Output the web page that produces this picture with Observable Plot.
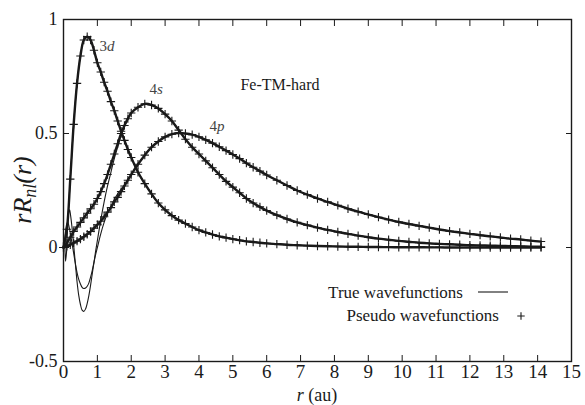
<!DOCTYPE html>
<html><head><meta charset="utf-8">
<script src="https://cdn.jsdelivr.net/npm/d3@7"></script>
<script src="https://cdn.jsdelivr.net/npm/@observablehq/plot@0.6"></script>
<style>
html,body{margin:0;padding:0;background:#fff;}
#chart{width:585px;height:405px;}
svg, svg text{font-family:"Liberation Serif",Tinos,"Times New Roman",Times,"DejaVu Serif",serif !important;}
</style></head><body><div id="chart"></div>
<script>
// pseudo wavefunction grid (r in au)
const rGrid = [0,0.1,0.2,0.3,0.4,0.5,0.6,0.7,0.8,0.9,1.0,1.1,1.2,1.3,1.4,1.5,1.6,1.7,1.8,1.9,2.0,
  2.2,2.4,2.6,2.8,3.0,3.2,3.4,3.6,3.8,4.0,4.2,4.4,4.6,4.8,5.0,5.2,5.4,5.6,5.8,6.0,
  6.3,6.6,6.9,7.2,7.5,7.8,8.1,8.4,8.7,9.0,9.3,9.6,9.9,10.2,10.5,10.8,11.1,11.4,11.7,12.0,12.3,12.6,12.9,13.2,13.5,13.8,14.1];
const d3Vals = [0,0.08,0.30,0.54,0.72,0.84,0.91,0.925,0.91,0.865,0.81,0.77,0.725,0.685,0.64,0.60,0.555,0.51,0.47,0.43,0.395,
  0.33,0.28,0.235,0.195,0.165,0.14,0.12,0.105,0.09,0.076,0.066,0.057,0.049,0.043,0.037,0.032,0.027,0.024,0.021,0.018,
  0.015,0.012,0.010,0.008,0.0065,0.0055,0.0045,0.0035,0.003,0.0025,0.002,0.0015,0.001,0.001,0.001,0.0005,0.0005,0,0,0,0,0,0,0,0,0,0];
const s4Vals = [0,0.02,0.045,0.07,0.09,0.11,0.13,0.15,0.17,0.19,0.215,0.245,0.28,0.32,0.365,0.41,0.455,0.50,0.535,0.565,0.59,
  0.615,0.63,0.625,0.61,0.585,0.555,0.515,0.475,0.44,0.41,0.38,0.35,0.32,0.29,0.265,0.24,0.215,0.195,0.178,0.162,
  0.142,0.125,0.11,0.098,0.087,0.077,0.068,0.06,0.052,0.045,0.039,0.034,0.029,0.025,0.021,0.018,0.016,0.014,0.012,0.010,0.009,0.008,0.007,0.006,0.005,0.004,0.003];
const p4Vals = [0,0.005,0.012,0.02,0.028,0.037,0.047,0.058,0.07,0.085,0.10,0.115,0.135,0.155,0.175,0.20,0.22,0.245,0.27,0.295,0.32,
  0.365,0.405,0.44,0.465,0.485,0.497,0.502,0.50,0.495,0.485,0.472,0.458,0.442,0.425,0.408,0.39,0.37,0.352,0.335,0.318,
  0.295,0.272,0.25,0.232,0.215,0.20,0.185,0.17,0.157,0.145,0.133,0.122,0.112,0.103,0.095,0.087,0.079,0.072,0.066,0.06,0.054,0.049,0.044,0.039,0.035,0.03,0.026];
// true (all-electron) wavefunctions inside the core region
const rInner = [0,0.03,0.06,0.09,0.12,0.15,0.18,0.21,0.25,0.3,0.35,0.4,0.45,0.5,0.55,0.6,0.65,0.7,0.75,0.8,0.85,0.9,0.95,1.0,1.1,1.2,1.3,1.4,1.5,1.6,1.7,1.8,1.9];
const s4Inner = [0,0.03,-0.06,-0.02,0.08,0.15,0.165,0.14,0.09,0.01,-0.07,-0.15,-0.21,-0.25,-0.275,-0.28,-0.27,-0.245,-0.21,-0.165,-0.115,-0.065,-0.015,0.03,0.12,0.2,0.27,0.33,0.39,0.44,0.49,0.53,0.565];
const p4Inner = [0,0.03,0.07,0.1,0.11,0.1,0.08,0.055,0.02,-0.025,-0.07,-0.11,-0.14,-0.16,-0.175,-0.18,-0.178,-0.17,-0.155,-0.13,-0.1,-0.065,-0.03,0.0,0.06,0.11,0.15,0.18,0.21,0.235,0.255,0.275,0.3];
const xTicks = [0,1,2,3,4,5,6,7,8,9,10,11,12,13,14,15];
const yTicks = [-0.5,0,0.5,1];
const yTickLabels = ["-0.5","0","0.5","1"];
const curveLabels = [
  {num:"3", sub:"d", r:1.3, v:0.86},
  {num:"4", sub:"s", r:2.75, v:0.67},
  {num:"4", sub:"p", r:4.55, v:0.51}
];
const legendLabels = ["True wavefunctions","Pseudo wavefunctions"];
const boxLabel = "Fe-TM-hard";

const series = [["3d", d3Vals], ["4s", s4Vals], ["4p", p4Vals]];
const pseudo = series.flatMap(([s, vals]) => rGrid.map((r, i) => ({s, r, v: vals[i]})));
const innerMap = {"3d": null, "4s": s4Inner, "4p": p4Inner};
const trueT = series.flatMap(([s, vals]) => {
  const inner = innerMap[s];
  if (!inner) return rGrid.map((r, i) => ({s, r, v: vals[i]}));
  const a = rInner.map((r, i) => ({s, r, v: inner[i]}));
  const b = rGrid.map((r, i) => ({s, r, v: vals[i]})).filter(d => d.r >= 2);
  return a.concat(b);
});

const ink = "#1a1a1a";
const font = '"Liberation Serif", Tinos, "Times New Roman", Times, "DejaVu Serif", serif';
const plot = Plot.plot({
  width: 585, height: 405,
  marginLeft: 63, marginRight: 14, marginTop: 19, marginBottom: 44,
  x: {domain: [0, 15]},
  y: {domain: [-0.5, 1]},
  style: {fontFamily: font, fontSize: "18px", color: ink, background: "#fff"},
  marks: [
    Plot.axisX(xTicks, {anchor: "bottom", tickSize: 0, tickPadding: 3, fontSize: 19, tickFormat: d => String(d), label: null}),
    Plot.axisX(xTicks, {anchor: "bottom", tickSize: -6, tickFormat: () => "", label: null}),
    Plot.axisX(xTicks, {anchor: "top", tickSize: -6, tickFormat: () => "", label: null}),
    Plot.axisY(yTicks, {anchor: "left", tickSize: 0, tickPadding: 6, fontSize: 18, tickFormat: (d, i) => yTickLabels[yTicks.indexOf(d)], label: null}),
    Plot.axisY(yTicks, {anchor: "left", tickSize: -6, tickFormat: () => "", label: null}),
    Plot.axisY(yTicks, {anchor: "right", tickSize: -6, tickFormat: () => "", label: null}),
    Plot.line(pseudo, {x: "r", y: "v", z: "s", stroke: ink, strokeWidth: 2.4, curve: "catmull-rom"}),
    Plot.dot(pseudo, {x: "r", y: "v", symbol: "plus", r: 2.8, stroke: ink, strokeWidth: 1.1}),
    Plot.line(trueT, {x: "r", y: "v", z: "s", stroke: ink, strokeWidth: 1.1, curve: "catmull-rom"}),
    Plot.frame({stroke: ink, strokeWidth: 1.4})
  ]
});
document.getElementById("chart").appendChild(plot);

const svg = d3.select(plot);
const xs = plot.scale("x"), ys = plot.scale("y");

// curve labels
curveLabels.forEach(c => {
  const t = svg.append("text").attr("x", xs.apply(c.r)).attr("y", ys.apply(c.v))
    .attr("font-family", font).attr("font-size", 15).attr("fill", "#444");
  t.append("tspan").text(c.num);
  t.append("tspan").attr("font-style", "italic").text(c.sub);
});

// box label
svg.append("text").attr("x", 280).attr("y", 90).attr("font-family", font).attr("font-size", 16)
  .attr("fill", ink).text(boxLabel);

// legend
svg.append("text").attr("x", 463).attr("y", 298).attr("text-anchor", "end").attr("font-family", font)
  .attr("font-size", 17).attr("fill", ink).text(legendLabels[0]);
svg.append("line").attr("x1", 478).attr("x2", 508).attr("y1", 292).attr("y2", 292).attr("stroke", ink).attr("stroke-width", 1.1);
svg.append("text").attr("x", 499).attr("y", 321).attr("text-anchor", "end").attr("font-family", font)
  .attr("font-size", 17).attr("fill", ink).text(legendLabels[1]);
svg.append("path").attr("d", d3.symbol(d3.symbolPlus, 20)()).attr("transform", "translate(521,316)")
  .attr("stroke", ink).attr("stroke-width", 1.1).attr("fill", "none");

// axis titles
const xl = svg.append("text").attr("x", (xs.apply(0) + xs.apply(15)) / 2).attr("y", 401)
  .attr("text-anchor", "middle").attr("font-family", font).attr("font-size", 18).attr("fill", ink);
xl.append("tspan").attr("font-style", "italic").text("r");
xl.append("tspan").text(" (au)");

const yl = svg.append("text").attr("transform", `translate(31,${(ys.apply(-0.5) + ys.apply(1)) / 2}) rotate(-90)`)
  .attr("text-anchor", "middle").attr("font-family", font).attr("font-size", 26).attr("font-style", "italic").attr("fill", ink);
yl.append("tspan").text("rR");
yl.append("tspan").attr("font-size", 18).attr("dy", 5).text("nl");
yl.append("tspan").attr("dy", -5).text("(r)");
</script></body></html>
